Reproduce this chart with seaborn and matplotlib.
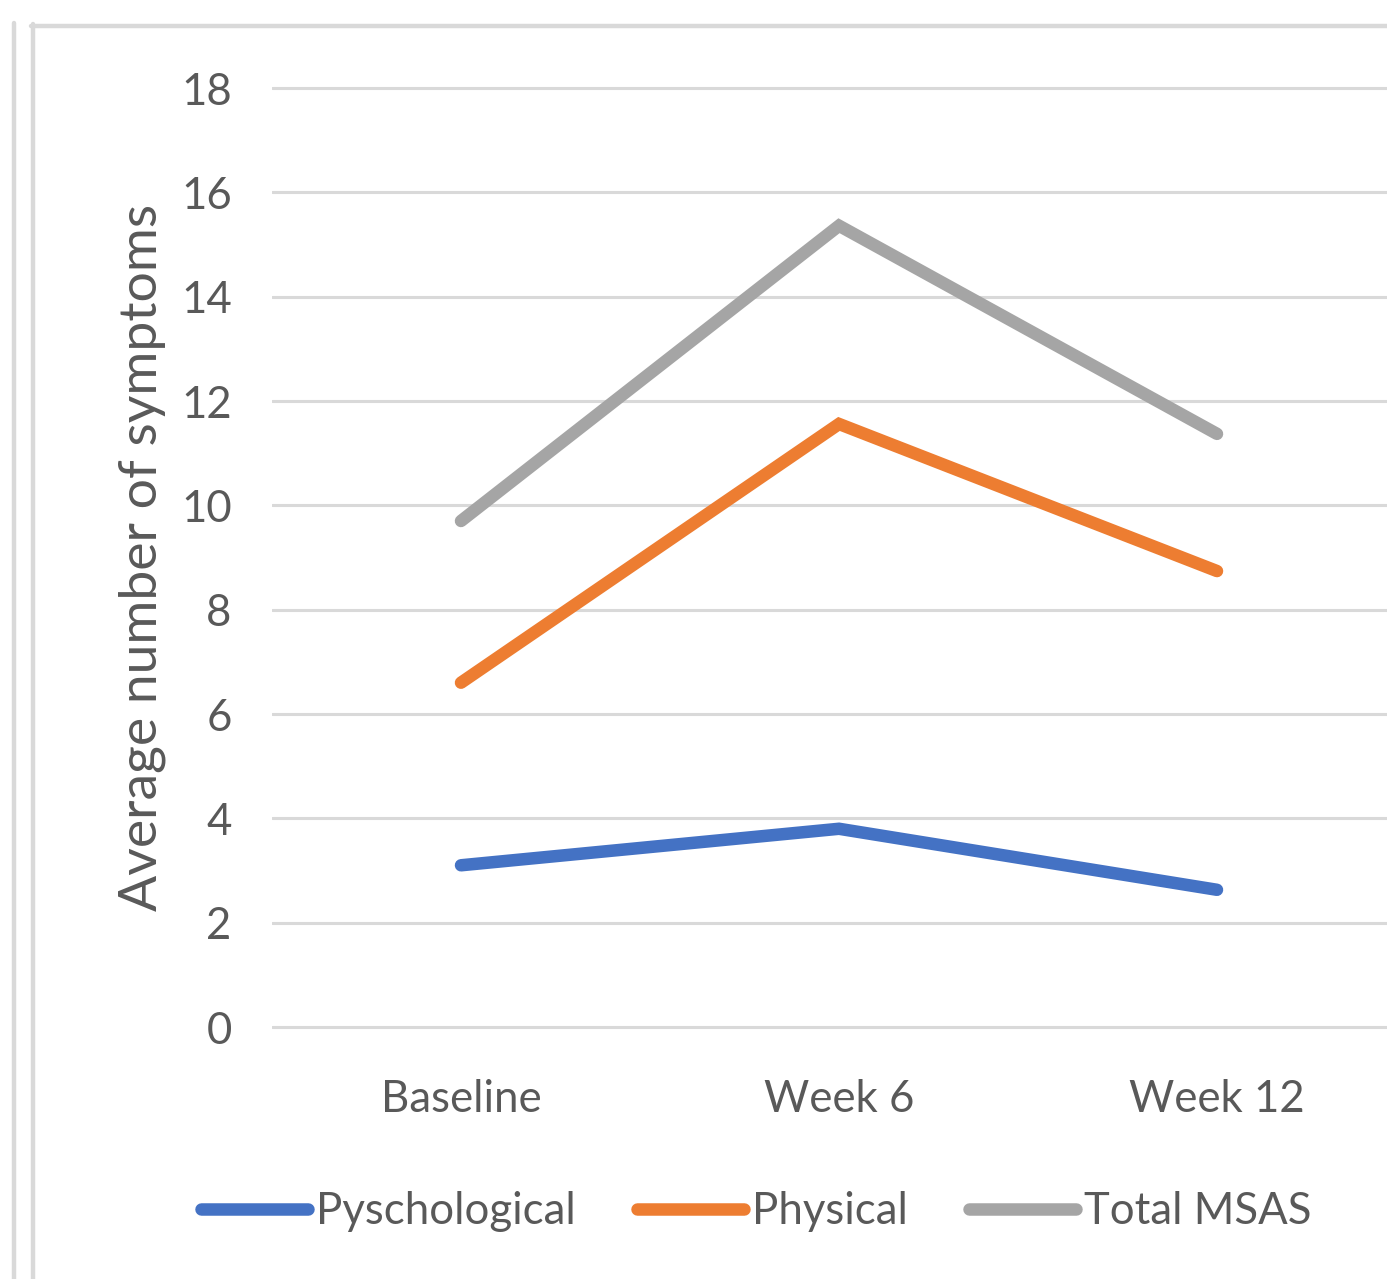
import matplotlib
matplotlib.use("Agg")
import matplotlib.pyplot as plt
import seaborn as sns
import pandas as pd
from matplotlib.lines import Line2D

timepoints = ["Baseline", "Week 6", "Week 12"]
psychological = [3.1, 3.8, 2.63]
physical = [6.6, 11.56, 8.74]
total_msas = [9.7, 15.36, 11.37]
series_names = ["Pyschological", "Physical", "Total MSAS"]
y_ticks = [0, 2, 4, 6, 8, 10, 12, 14, 16, 18]

df = pd.DataFrame({
    "time": timepoints * 3,
    "x": list(range(3)) * 3,
    "value": psychological + physical + total_msas,
    "series": [series_names[0]] * 3 + [series_names[1]] * 3 + [series_names[2]] * 3,
})

sns.set_theme(style="white")
plt.rcParams["font.family"] = ["Lato", "DejaVu Sans"]

W, H = 1387, 1279
fig = plt.figure(figsize=(W / 100, H / 100), dpi=100)
unit = (1027 - 88) / 18.0
pad = 0.1
bottom_px = 1027 + pad * unit
ax = fig.add_axes([272 / W, 1 - bottom_px / H, (1406 - 272) / W, (18 + 2 * pad) * unit / H])

palette = {"Pyschological": "#4472C4", "Physical": "#ED7D31", "Total MSAS": "#A5A5A5"}
sns.lineplot(data=df, x="x", y="value", hue="series", palette=palette, ax=ax,
             linewidth=9, legend=False, sort=False)
for ln in ax.get_lines():
    ln.set_solid_capstyle("round")
    ln.set_solid_joinstyle("miter")

ax.set_xlim(-0.5, 2.5)
ax.set_ylim(-pad, 18 + pad)
ax.set_yticks(y_ticks)
ax.set_xticks(range(3))
ax.set_xticklabels(timepoints)
ax.yaxis.grid(True, color="#d9d9d9", linewidth=2.2)
ax.set_axisbelow(True)
for s in ax.spines.values():
    s.set_visible(False)
ax.tick_params(axis="both", length=0, labelsize=31.5, colors="#595959")
ax.tick_params(axis="y", pad=29)
ax.tick_params(axis="x", pad=34)
ax.set_xlabel("")
ax.set_ylabel("Average number of symptoms", fontsize=38.5, color="#595959", labelpad=11)

handles = [Line2D([0], [0], color=palette[n], linewidth=9, solid_capstyle="round") for n in series_names]
fig.legend(handles, series_names, loc="center", bbox_to_anchor=(756 / W, 1 - 1212 / H),
           ncol=3, frameon=False, fontsize=31.5, handlelength=2.45, handletextpad=0.18,
           columnspacing=1.4, labelcolor="#595959")

# frame decorations
fig.add_artist(Line2D([14 / W, 14 / W], [0, 1 - 23 / H], color="#d9d9d9", linewidth=3.2, transform=fig.transFigure))
fig.add_artist(Line2D([32.5 / W, 32.5 / W], [0, 1 - 24 / H], color="#d9d9d9", linewidth=3.2, transform=fig.transFigure))
fig.add_artist(Line2D([31 / W, 1], [1 - 25.5 / H, 1 - 25.5 / H], color="#d9d9d9", linewidth=3.2, transform=fig.transFigure))

fig.savefig("out.png", dpi=100, facecolor="white")
